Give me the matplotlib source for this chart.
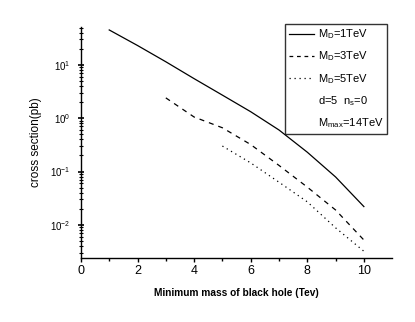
import numpy as np
import matplotlib
matplotlib.use("Agg")
from matplotlib import pyplot as plt
from matplotlib.lines import Line2D

plt.rcParams["font.family"] = ["Liberation Sans", "DejaVu Sans"]
plt.rcParams["mathtext.default"] = "regular"

# minimum black hole mass (TeV) and cross sections (pb)
mass_1tev = [1, 2, 3, 4, 5, 6, 7, 8, 9, 10]
xsec_1tev = [45, 23, 11.4, 5.5, 2.7, 1.32, 0.6, 0.23, 0.079, 0.022]

mass_3tev = [3, 4, 5, 6, 7, 8, 9, 10]
xsec_3tev = [2.4, 1.05, 0.66, 0.32, 0.13, 0.051, 0.019, 0.0052]

mass_5tev = [5, 6, 7, 8, 9, 10]
xsec_5tev = [0.30, 0.145, 0.063, 0.027, 0.0088, 0.0032]

labels = ["M$_D$=1TeV", "M$_D$=3TeV", "M$_D$=5TeV", "d=5  n$_s$=0", "M$_{max}$=14TeV"]

fig = plt.figure(figsize=(4.15, 3.22), dpi=100)
ax = fig.add_axes([0.195, 0.199, 0.75, 0.717])

ax.plot(mass_1tev, xsec_1tev, color="black", lw=0.9, ls="-")
ax.plot(mass_3tev, xsec_3tev, color="black", lw=0.9, ls=(0, (4, 4)))
ax.plot(mass_5tev, xsec_5tev, color="black", lw=0.9, ls=(0, (1, 3)))

ax.set_yscale("log")
ax.set_xlim(0, 11)
ax.set_ylim(2.4e-3, 51)
ax.set_xticks([0, 2, 4, 6, 8, 10])
ax.set_xticks([1, 3, 5, 7, 9], minor=True)
ax.set_yticks([1e-2, 1e-1, 1e0, 1e1])

for s in ["top", "right"]:
    ax.spines[s].set_visible(False)
ax.spines["left"].set_linewidth(1.0)
ax.spines["bottom"].set_linewidth(1.0)

ax.tick_params(axis="x", which="major", direction="out", length=3, width=1, labelsize=9, pad=2)
ax.tick_params(axis="x", which="minor", direction="out", length=2, width=1)
ax.tick_params(axis="y", which="major", direction="inout", length=5, width=1.2, labelsize=7, pad=5)
ax.tick_params(axis="y", which="minor", direction="inout", length=3, width=0.8)

ax.set_xlabel("Minimum mass of black hole (Tev)", fontsize=7.3, fontweight="bold", labelpad=8)
ax.set_ylabel("cross section(pb)", fontsize=8.5, labelpad=6)

handles = [
    Line2D([], [], color="black", lw=0.9, ls="-"),
    Line2D([], [], color="black", lw=0.9, ls=(0, (3, 3))),
    Line2D([], [], color="black", lw=0.9, ls=(0, (1, 3))),
    Line2D([], [], color="none"),
    Line2D([], [], color="none"),
]
leg = ax.legend(
    handles,
    labels,
    loc="upper right",
    bbox_to_anchor=(0.984, 1.015),
    fontsize=8,
    frameon=True,
    fancybox=False,
    edgecolor="black",
    handlelength=2.3,
    handletextpad=0.3,
    labelspacing=0.75,
    borderpad=0.35,
    borderaxespad=0,
)
leg.get_frame().set_linewidth(1.0)

plt.savefig("out.png", dpi=100)
